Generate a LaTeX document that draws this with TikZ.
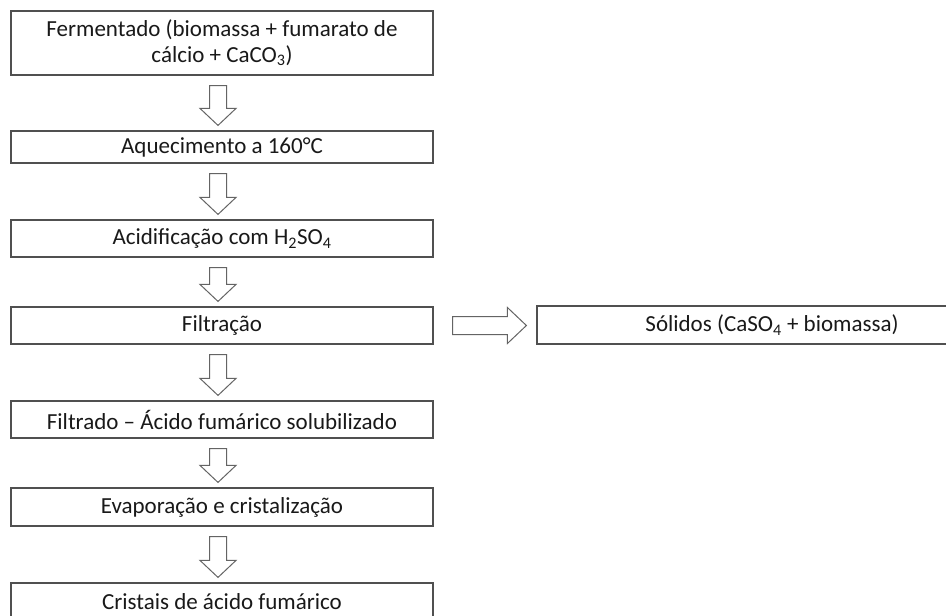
\documentclass[tikz,border=0pt]{standalone}
\usepackage{fontspec}
\setmainfont{Carlito}
\usetikzlibrary{calc}
\definecolor{boxline}{RGB}{80,80,80}
\definecolor{arrline}{RGB}{100,100,100}
\definecolor{txt}{RGB}{25,25,25}
\tikzset{
  stepbox/.style={draw=boxline, line width=1.2pt, rectangle, inner sep=0pt,
    minimum width=422pt, text=txt, align=center,
    font=\fontsize{23pt}{25.5pt}\selectfont},
  hollowarrow/.style={draw=arrline, line width=1pt, fill=white, line join=miter}
}
\newcommand{\blockdown}[2]{%
  \path let \p1=(#1.south), \p2=(#2.north) in
    [hollowarrow] (\x1-12.5pt,\y1-10pt) -- (\x1+4.5pt,\y1-10pt) -- (\x1+4.5pt,\y2+22pt)
    -- (\x1+14pt,\y2+22pt) -- (\x1-4pt,\y2+5pt) -- (\x1-22pt,\y2+22pt)
    -- (\x1-12.5pt,\y2+22pt) -- cycle;}
\begin{document}
\begin{tikzpicture}[x=1pt,y=-1pt]
\useasboundingbox[fill=white] (0,0) rectangle (946,616);
\node[stepbox, minimum height=64pt] (b1) at (222,43) {Fermentado (biomassa + fumarato de\\cálcio + CaCO\textsubscript{3})};
\node[stepbox, minimum height=32pt] (b2) at (222,147) {Aquecimento a 160°C};
\node[stepbox, minimum height=37pt] (b3) at (222,238.5) {Acidificação com H\textsubscript{2}SO\textsubscript{4}};
\node[stepbox, minimum height=37pt] (b4) at (222,325.5) {Filtração};
\node[stepbox, minimum height=37pt] (b5) at (222,419.5) {Filtrado – Ácido fumárico solubilizado};
\node[stepbox, minimum height=38pt] (b6) at (222,507) {Evaporação e cristalização};
\node[stepbox, minimum height=37pt] (b7) at (222,601.5) {Cristais de ácido fumárico};
\node[stepbox, minimum height=38pt, minimum width=470pt] (s) at (772,325) {Sólidos (CaSO\textsubscript{4} + biomassa)};
\blockdown{b1}{b2}
\blockdown{b2}{b3}
\blockdown{b3}{b4}
\blockdown{b4}{b5}
\blockdown{b5}{b6}
\blockdown{b6}{b7}
\path let \p1=(b4.east), \p2=(s.west) in
  [hollowarrow] (\x1+19pt,\y1+9pt) -- (\x2-29pt,\y1+9pt) -- (\x2-29pt,\y1+18pt)
  -- (\x2-10pt,\y1) -- (\x2-29pt,\y1-18pt) -- (\x2-29pt,\y1-9pt) -- (\x1+19pt,\y1-9pt) -- cycle;
\end{tikzpicture}
\end{document}
